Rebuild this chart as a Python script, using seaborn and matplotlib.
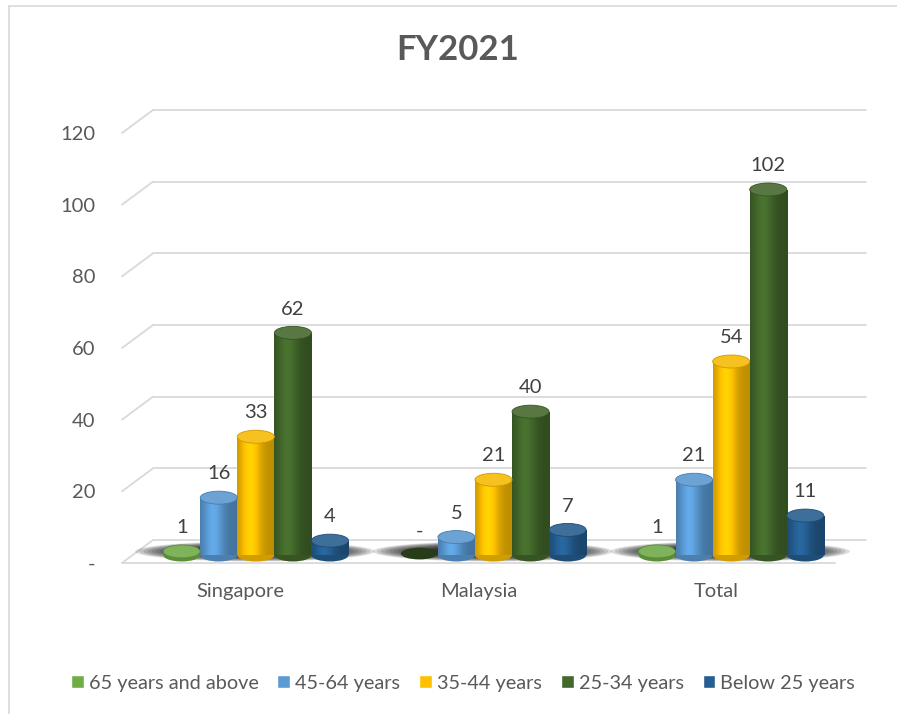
import numpy as np
import pandas as pd
import matplotlib
matplotlib.use("Agg")
import matplotlib.pyplot as plt
import matplotlib.transforms as mtransforms
from matplotlib.patches import Ellipse
from matplotlib.lines import Line2D
from matplotlib.colors import to_rgb
import seaborn as sns

## Values
regions = ["Singapore", "Malaysia", "Total"]
age_groups = ["65 years and above", "45-64 years", "35-44 years", "25-34 years", "Below 25 years"]
age_65_plus = [1, 0, 1]
age_45_64 = [16, 5, 21]
age_35_44 = [33, 21, 54]
age_25_34 = [62, 40, 102]
age_below_25 = [4, 7, 11]
y_ticks = [0, 20, 40, 60, 80, 100, 120]
y_tick_labels = ["-", "20", "40", "60", "80", "100", "120"]
colors = ["#70AD47", "#5B9BD5", "#FFC000", "#43682B", "#255E91"]
chart_title = "FY2021"

series = [age_65_plus, age_45_64, age_35_44, age_25_34, age_below_25]
df = pd.DataFrame({
    "region": regions * len(age_groups),
    "age_group": [g for g in age_groups for _ in regions],
    "count": [v for s in series for v in s],
})

sns.set_theme(style="white")
plt.rcParams["font.family"] = ["Lato", "DejaVu Sans"]
text_col = "#595959"
grid_col = "#D9D9D9"
fs = 14.5

W, H, DPI = 897, 714, 100
fig = plt.figure(figsize=(W / DPI, H / DPI), dpi=DPI)
ax_l, ax_b, ax_w, ax_h = 137, 555, 713, 430   # pixels
ax = fig.add_axes([ax_l / W, 1 - ax_b / H, ax_w / W, ax_h / H])

sns.barplot(data=df, x="region", y="count", hue="age_group", hue_order=age_groups,
            palette=colors, width=0.78, saturation=1, errorbar=None, ax=ax)

ymax = 120
ppu = ax_h / ymax            # pixels per data unit (y)
ppx = ax_w / 3.0             # pixels per category unit (x)

# 3d-ish back wall gridlines and the diagonal connectors to the front
back_dx, back_dy = 16, 15
front_dx, front_dy = -15, -8
ytr = ax.get_yaxis_transform()
for v in y_ticks:
    ax.plot([back_dx / ax_w, 1 + back_dx / ax_w], [v + back_dy / ppu] * 2,
            color=grid_col, lw=1.3, transform=ytr, clip_on=False, zorder=0.5)
    ax.plot([front_dx / ax_w, back_dx / ax_w], [v + front_dy / ppu, v + back_dy / ppu],
            color=grid_col, lw=1.3, transform=ytr, clip_on=False, zorder=0.5)
# floor front edge
ax.plot([front_dx / ax_w, 1 + front_dx / ax_w], [front_dy / ppu] * 2,
        color=grid_col, lw=1.3, transform=ytr, clip_on=False, zorder=0.5)

# soft shadows under each group, built from stacked translucent ellipses
for i in range(len(regions)):
    group = [c[i] for c in ax.containers]
    left = min(b.get_x() for b in group) - 32 / ppx
    right = max(b.get_x() + b.get_width() for b in group) + 22 / ppx
    cx, cw = (left + right) / 2, right - left
    for k in range(14):
        s = 1 - k * 0.035
        ax.add_patch(Ellipse((cx + 4 / ppx, 1.0), cw * s, (20 / ppu) * (1 - k * 0.05),
                             fc="#1a1a1a", ec="none", alpha=0.14, zorder=1, clip_on=False))

# cylinder look: shaded body, rounded bottom and an elliptical top
cap_h = 13 / ppu
t = np.linspace(0, 1, 64)
shade = 0.74 + 0.36 * np.exp(-((t - 0.35) / 0.28) ** 2)
for container, color in zip(ax.containers, colors):
    base = np.array(to_rgb(color))
    for bar in container:
        x, w, h = bar.get_x(), bar.get_width(), bar.get_height()
        cx = x + w / 2
        if h <= 0:
            ax.add_patch(Ellipse((cx, 0.4), w, cap_h * 0.9, fc=base * 0.35, ec="none",
                                 zorder=2, clip_on=False))
            continue
        img = np.clip(base[None, :] * shade[:, None], 0, 1)[None, :, :]
        im = ax.imshow(img, extent=[x, x + w, 0, h], aspect="auto", zorder=3,
                       interpolation="bilinear")
        im.set_clip_path(bar)
        ax.add_patch(Ellipse((cx, 0), w, cap_h, fc=base * 0.82, ec="none",
                             zorder=2.9, clip_on=False))
        top = np.clip(base * 0.85 + 0.12, 0, 1)
        ax.add_patch(Ellipse((cx, h), w, cap_h, fc=top, ec=base * 0.8, lw=0.6,
                             zorder=4, clip_on=False))
    labels = ["-" if v == 0 else str(int(v)) for v in container.datavalues]
    ax.bar_label(container, labels=labels, padding=11, fontsize=fs, color="#404040")

ax.set_xlim(-0.5, 2.5)
ax.set_ylim(0, ymax)
ax.set_yticks(y_ticks)
ax.set_yticklabels(y_tick_labels)
ax.set_xlabel("")
ax.set_ylabel("")
ax.tick_params(axis="y", length=0, pad=30, labelsize=fs, labelcolor=text_col)
ax.tick_params(axis="x", length=0, pad=20, labelsize=fs, labelcolor=text_col)
sns.despine(ax=ax, left=True, bottom=True)

for lbl in ax.get_yticklabels():
    lbl.set_transform(lbl.get_transform() + mtransforms.ScaledTranslation(0, front_dy / DPI, fig.dpi_scale_trans))
for lbl in ax.get_xticklabels():
    lbl.set_transform(lbl.get_transform() + mtransforms.ScaledTranslation(front_dx / DPI, 0, fig.dpi_scale_trans))

sns.move_legend(ax, "center", bbox_to_anchor=(463 / W, 1 - 683 / H), bbox_transform=fig.transFigure,
                ncol=5, frameon=False, title=None, fontsize=14.3, labelcolor=text_col,
                handlelength=0.65, handleheight=0.65, handletextpad=0.25, columnspacing=0.95)

fig.text(458 / W, 1 - 50 / H, chart_title, ha="center", va="center", fontsize=25,
         fontweight="bold", color=text_col)

# chart area border (top and left edges visible in the reference)
fig.add_artist(Line2D([9 / W, 9 / W], [0, 1 - 6 / H], color=grid_col, lw=1.2))
fig.add_artist(Line2D([9 / W, 1], [1 - 6 / H, 1 - 6 / H], color=grid_col, lw=1.2))

fig.savefig("out.png", dpi=DPI)
